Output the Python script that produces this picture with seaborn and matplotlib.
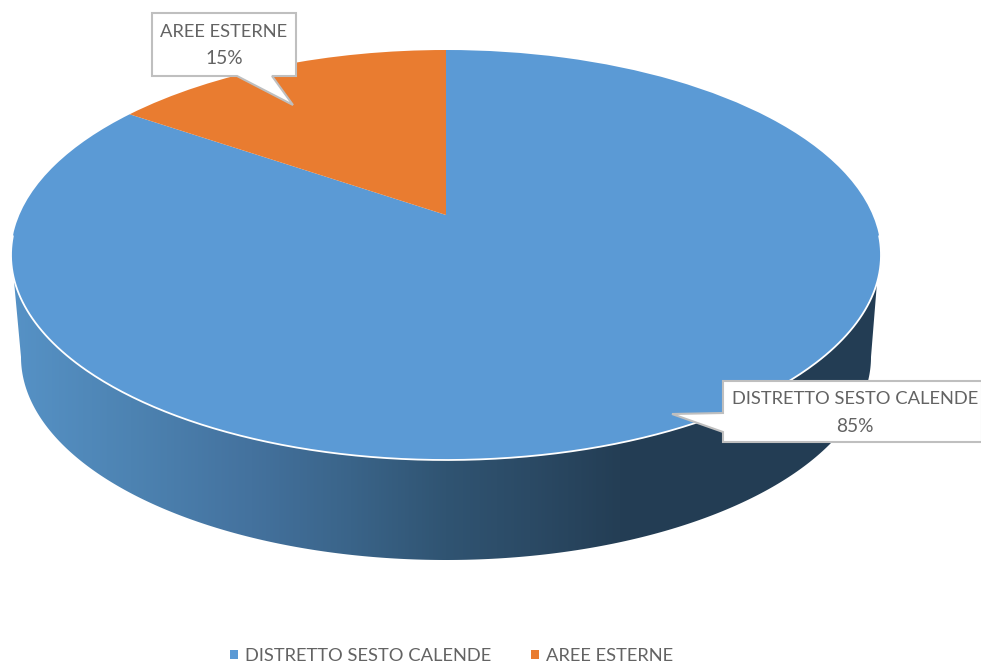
import numpy as np
import matplotlib
matplotlib.use("Agg")
import matplotlib.pyplot as plt
import seaborn as sns
from matplotlib.colors import LinearSegmentedColormap
from matplotlib.patches import Polygon
from matplotlib.transforms import Transform

categories = ["DISTRETTO SESTO CALENDE", "AREE ESTERNE"]
shares = [84.6, 15.4]
colors = ["#5B9AD5", "#E97C30"]

sns.set_theme(style="white")
plt.rcParams["font.family"] = ["Lato", "DejaVu Sans"]
TEXT = "#636363"

CX, CY = 446.0, 255.0   # centre of the drawn ellipse, pixels
RX, RY = 435.0, 205.0   # semi-axes of the drawn ellipse
APEX = 40.0             # apex sits this far above the ellipse centre
K = APEX * 2 / (2 * RY)


class Perspective(Transform):
    """Tilts the unit pie disc into the view of a 3-D pie."""
    input_dims = output_dims = 2
    is_separable = False
    has_inverse = False

    def transform_non_affine(self, values):
        values = np.asarray(values, dtype=float)
        u, v = values[:, 0], values[:, 1]
        d = 1 + K * v
        x = RX * np.sqrt(1 - K ** 2) * u / d
        y = (RY * v + APEX) / d
        return np.column_stack([CX + x, CY - y])


fig = plt.figure(figsize=(9.81, 6.64), dpi=100, facecolor="white")
ax = fig.add_axes([0, 0, 1, 1])

wedges, _ = ax.pie(shares, colors=colors, startangle=90, counterclock=False,
                   wedgeprops=dict(edgecolor="none", linewidth=0, zorder=3))
persp = Perspective()
for w in wedges:
    w.set_transform(persp + ax.transData)

# white rim along the front of the disc
rim = np.linspace(np.radians(186), np.radians(354), 300)
ax.plot(np.cos(rim), np.sin(rim), color="white", lw=1.3, zorder=4,
        transform=persp + ax.transData, solid_capstyle="round")

# pie wall: horizontal gradient clipped to the extruded outline
wall_cmap = LinearSegmentedColormap.from_list(
    "wall",
    [(0.00, "#5692C6"), (0.137, "#4D83B2"), (0.275, "#44729E"), (0.39, "#3A6489"),
     (0.50, "#305472"), (0.597, "#2B4A65"), (0.70, "#243E55"), (1.00, "#233D54")])
grad = ax.imshow(np.linspace(0, 1, 512)[None, :], cmap=wall_cmap, aspect="auto",
                 extent=(11, 881, 664, 0), zorder=1, interpolation="bilinear")
t = np.linspace(0, np.pi, 300)
bx = 446 + 425 * np.cos(t)
by = 357 + 203 * np.sin(t)
outline = np.column_stack([np.r_[878, bx, 13, CX],
                           np.r_[270, by, 270, CY]])
clip = Polygon(outline, closed=True, transform=ax.transData, fc="none", ec="none")
ax.add_patch(clip)
grad.set_clip_path(clip)

ax.set_aspect("auto")
ax.set_xlim(0, 981)
ax.set_ylim(664, 0)
ax.axis("off")


def callout(outline_pts, label, value, tx, y1, y2):
    ax.add_patch(Polygon(outline_pts, closed=True, fc="white", ec="#BFBFBF", lw=1.5,
                         zorder=5, clip_on=False))
    ax.text(tx, y1, label, ha="center", va="center", color=TEXT, fontsize=13.2, zorder=6)
    ax.text(tx, y2, f"{value:.0f}%", ha="center", va="center", color=TEXT, fontsize=13.8, zorder=6)


callout([(152, 13), (296, 13), (296, 76), (272, 76), (293, 105), (237, 76), (152, 76)],
        categories[1], shares[1], 224, 32, 59)
callout([(723, 381), (982, 381), (982, 442), (723, 442), (723, 432), (672, 414), (723, 413)],
        categories[0], shares[0], 855, 399, 427)

leg = ax.legend(wedges, categories, ncol=2, loc="center",
                bbox_to_anchor=(451.5 / 981, 1 - 656 / 664), frameon=False,
                fontsize=13.2, labelcolor=TEXT, handlelength=0.42, handleheight=0.42,
                handletextpad=0.38, columnspacing=2.2, borderpad=0, borderaxespad=0)
for h in leg.legend_handles:
    h.set_edgecolor("none")

fig.savefig("out.png", dpi=100)
